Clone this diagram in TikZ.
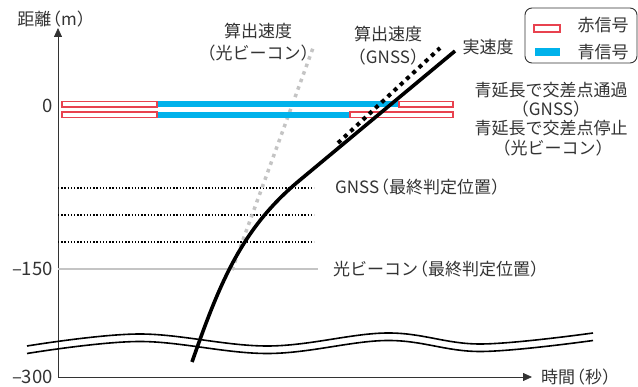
\documentclass[tikz,border=0pt]{standalone}
\usepackage{fontspec}
\setmainfont{Noto Sans CJK JP}
\usetikzlibrary{arrows.meta}
\definecolor{sigred}{HTML}{E8424F}
\definecolor{sigblue}{HTML}{00B2EB}
\definecolor{txt}{HTML}{333333}
\definecolor{lgray}{HTML}{C4C4C4}
\newcommand\lpar{\kern-0.42em（}
\newcommand\rpar{）\kern-0.42em}
\begin{document}
\begin{tikzpicture}[x=1pt,y=-1pt,
  font=\fontsize{17}{19}\selectfont,
  lbl/.style={text=txt, inner sep=0pt},
  num/.style={text=txt, inner sep=0pt, font=\fontsize{18.5}{20}\selectfont},
  axisline/.style={draw=txt, line width=0.8pt, -{Triangle[length=9pt,width=8pt]}},
  redbox/.style={draw=sigred, line width=1.2pt, fill=white},
  bluebar/.style={fill=sigblue},
  realspeed/.style={line width=3.6pt, black},
  gnssdots/.style={line width=4pt, black, dash pattern=on 4pt off 4.5pt},
  beacondots/.style={line width=3.5pt, lgray, dash pattern=on 3.5pt off 4.5pt},
  judgedots/.style={line width=1.3pt, black, dash pattern=on 1.3pt off 1.9pt},
  judgeline/.style={line width=1.4pt, lgray},
  wave/.style={line width=1.6pt, black},
  legendbox/.style={draw=txt, line width=0.9pt, rounded corners=7pt}
]
\useasboundingbox (0,0) rectangle (638,387);

% axes
\coordinate (O) at (58,377);
\coordinate (ytip) at (58,28);
\coordinate (xtip) at (532,377);
\draw[axisline] (O) -- (ytip);
\draw[axisline] (O) -- (xtip);
\node[lbl] (ylab) at (52,19) {距離\lpar m\rpar};
\node[lbl, anchor=west] (xlab) at (541,377) {時間\lpar 秒\rpar};
\node[num, anchor=east] (zero) at (53,106) {0};
\node[num, anchor=east] (m150) at (53,269) {–150};
\node[num, anchor=east] (m300) at (53,377) {–300};

% judgement positions
\coordinate (j1a) at (58,188); \coordinate (j1b) at (314,188);
\coordinate (j2a) at (58,215); \coordinate (j2b) at (314,215);
\coordinate (j3a) at (58,242); \coordinate (j3b) at (314,242);
\coordinate (bla) at (58,269); \coordinate (blb) at (318,269);
\draw[judgedots] (j1a) -- (j1b);
\draw[judgedots] (j2a) -- (j2b);
\draw[judgedots] (j3a) -- (j3b);
\draw[judgeline] (bla) -- (blb);
\node[lbl, anchor=west] (gnsspos) at (335,187) {GNSS\lpar 最終判定位置\rpar};
\node[lbl, anchor=west] (beaconpos) at (333,269) {光ビーコン\lpar 最終判定位置\rpar};

% beacon computed speed
\coordinate (bs0) at (232,270);
\coordinate (bs1) at (313,48);
\draw[beacondots] (bs0) -- (bs1);

% signal bars
\fill[bluebar] (157,101) rectangle (399,107);
\fill[bluebar] (157,112) rectangle (350,118);
\draw[redbox] (62,101.5) rectangle (157,107);
\draw[redbox] (399,101.5) rectangle (453,107);
\draw[redbox] (62,112) rectangle (157,117.5);
\draw[redbox] (350,112) rectangle (453,117.5);

% GNSS computed speed
\coordinate (gs0) at (338,143);
\coordinate (gs1) at (440,48);
\draw[gnssdots] (gs0) -- (gs1);

% real speed
\coordinate (rs0) at (192,362);
\coordinate (rs1) at (300,180);
\coordinate (rs2) at (455,51);
\draw[realspeed] (rs0) .. controls (220,282) and (242,228) .. (rs1) -- (rs2);

% break marks
\draw[wave] plot[smooth, tension=0.6] coordinates {(27,346) (140,334) (268,346) (387,333) (480,344) (593,333)};
\draw[wave] plot[smooth, tension=0.6] coordinates {(27,353.5) (140,341.5) (268,353.5) (387,340.5) (480,351.5) (593,340.5)};

% labels
\node[lbl] (bt1) at (258,31) {算出速度};
\node[lbl] (bt2) at (258,53) {\lpar 光ビーコン\rpar};
\node[lbl] (gt1) at (388,34) {算出速度};
\node[lbl] (gt2) at (388,57) {\lpar GNSS\rpar};
\node[lbl] (real) at (488,47) {実速度};
\node[lbl] (pass1) at (551,90) {青延長で交差点通過};
\node[lbl] (pass2) at (551,109) {\lpar GNSS\rpar};
\node[lbl] (stop1) at (551,128) {青延長で交差点停止};
\node[lbl] (stop2) at (553,148) {\lpar 光ビーコン\rpar};

% legend
\draw[legendbox] (525,8) rectangle (637,63);
\draw[redbox] (534,25) rectangle (560,32);
\fill[bluebar] (535,48) rectangle (560,56);
\node[lbl] (redtxt) at (603,25) {赤信号};
\node[lbl] (bluetxt) at (603,52) {青信号};
\end{tikzpicture}
\end{document}
